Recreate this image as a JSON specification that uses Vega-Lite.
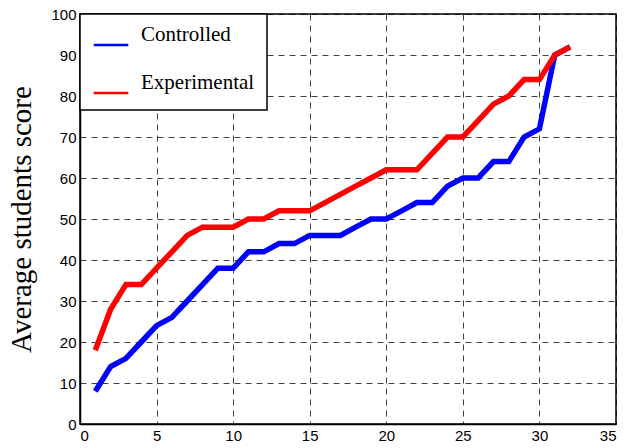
{
  "$schema": "https://vega.github.io/schema/vega-lite/v6.json",
  "autosize": {"type": "none"},
  "width": 536,
  "height": 410,
  "padding": {"left": 80, "top": 14, "right": 16, "bottom": 24},
  "background": "white",
  "config": {
    "view": {"stroke": "black", "strokeWidth": 1.5},
    "legend": {"strokeWidth": 1.5},
    "axis": {
      "labelFont": "Liberation Sans",
      "labelFontSize": 15,
      "labelColor": "black",
      "grid": true,
      "gridColor": "black",
      "gridDash": [6, 5],
      "gridOpacity": 0.75,
      "gridWidth": 1,
      "domainColor": "black",
      "domainWidth": 1.5,
      "tickSize": 0,
      "labelPadding": 4
    }
  },
  "data": {
    "values": [
      {"x": 1, "score": 8, "group": "Controlled"},
      {"x": 2, "score": 14, "group": "Controlled"},
      {"x": 3, "score": 16, "group": "Controlled"},
      {"x": 4, "score": 20, "group": "Controlled"},
      {"x": 5, "score": 24, "group": "Controlled"},
      {"x": 6, "score": 26, "group": "Controlled"},
      {"x": 7, "score": 30, "group": "Controlled"},
      {"x": 8, "score": 34, "group": "Controlled"},
      {"x": 9, "score": 38, "group": "Controlled"},
      {"x": 10, "score": 38, "group": "Controlled"},
      {"x": 11, "score": 42, "group": "Controlled"},
      {"x": 12, "score": 42, "group": "Controlled"},
      {"x": 13, "score": 44, "group": "Controlled"},
      {"x": 14, "score": 44, "group": "Controlled"},
      {"x": 15, "score": 46, "group": "Controlled"},
      {"x": 16, "score": 46, "group": "Controlled"},
      {"x": 17, "score": 46, "group": "Controlled"},
      {"x": 18, "score": 48, "group": "Controlled"},
      {"x": 19, "score": 50, "group": "Controlled"},
      {"x": 20, "score": 50, "group": "Controlled"},
      {"x": 21, "score": 52, "group": "Controlled"},
      {"x": 22, "score": 54, "group": "Controlled"},
      {"x": 23, "score": 54, "group": "Controlled"},
      {"x": 24, "score": 58, "group": "Controlled"},
      {"x": 25, "score": 60, "group": "Controlled"},
      {"x": 26, "score": 60, "group": "Controlled"},
      {"x": 27, "score": 64, "group": "Controlled"},
      {"x": 28, "score": 64, "group": "Controlled"},
      {"x": 29, "score": 70, "group": "Controlled"},
      {"x": 30, "score": 72, "group": "Controlled"},
      {"x": 31, "score": 90, "group": "Controlled"},
      {"x": 32, "score": 92, "group": "Controlled"},
      {"x": 1, "score": 18, "group": "Experimental"},
      {"x": 2, "score": 28, "group": "Experimental"},
      {"x": 3, "score": 34, "group": "Experimental"},
      {"x": 4, "score": 34, "group": "Experimental"},
      {"x": 5, "score": 38, "group": "Experimental"},
      {"x": 6, "score": 42, "group": "Experimental"},
      {"x": 7, "score": 46, "group": "Experimental"},
      {"x": 8, "score": 48, "group": "Experimental"},
      {"x": 9, "score": 48, "group": "Experimental"},
      {"x": 10, "score": 48, "group": "Experimental"},
      {"x": 11, "score": 50, "group": "Experimental"},
      {"x": 12, "score": 50, "group": "Experimental"},
      {"x": 13, "score": 52, "group": "Experimental"},
      {"x": 14, "score": 52, "group": "Experimental"},
      {"x": 15, "score": 52, "group": "Experimental"},
      {"x": 16, "score": 54, "group": "Experimental"},
      {"x": 17, "score": 56, "group": "Experimental"},
      {"x": 18, "score": 58, "group": "Experimental"},
      {"x": 19, "score": 60, "group": "Experimental"},
      {"x": 20, "score": 62, "group": "Experimental"},
      {"x": 21, "score": 62, "group": "Experimental"},
      {"x": 22, "score": 62, "group": "Experimental"},
      {"x": 23, "score": 66, "group": "Experimental"},
      {"x": 24, "score": 70, "group": "Experimental"},
      {"x": 25, "score": 70, "group": "Experimental"},
      {"x": 26, "score": 74, "group": "Experimental"},
      {"x": 27, "score": 78, "group": "Experimental"},
      {"x": 28, "score": 80, "group": "Experimental"},
      {"x": 29, "score": 84, "group": "Experimental"},
      {"x": 30, "score": 84, "group": "Experimental"},
      {"x": 31, "score": 90, "group": "Experimental"},
      {"x": 32, "score": 92, "group": "Experimental"}
    ]
  },
  "mark": {"type": "line", "strokeWidth": 5.5, "strokeJoin": "miter", "strokeCap": "butt"},
  "encoding": {
    "x": {
      "field": "x",
      "type": "quantitative",
      "scale": {"domain": [0, 35], "nice": false},
      "axis": {"values": [0, 5, 10, 15, 20, 25, 30, 35], "title": null}
    },
    "y": {
      "field": "score",
      "type": "quantitative",
      "scale": {"domain": [0, 100], "nice": false},
      "axis": {
        "values": [0, 10, 20, 30, 40, 50, 60, 70, 80, 90, 100],
        "title": "Average students score",
        "titleFont": "Liberation Serif",
        "titleFontSize": 29,
        "titleFontWeight": "normal",
        "titleColor": "black",
        "titlePadding": 14
      }
    },
    "color": {
      "field": "group",
      "type": "nominal",
      "scale": {"domain": ["Controlled", "Experimental"], "range": ["#0000FF", "#FF0000"]},
      "legend": {
        "title": null,
        "orient": "none",
        "legendX": 0,
        "legendY": 0,
        "fillColor": "white",
        "strokeColor": "black",
        "padding": 12,
        "symbolType": "stroke",
        "symbolSize": 1200,
        "symbolStrokeWidth": 2.5,
        "labelFont": "Liberation Serif",
        "labelFontSize": 21,
        "labelColor": "black",
        "labelBaseline": "bottom",
        "labelOffset": 11,
        "rowPadding": 22,
        "labelLimit": 250
      }
    }
  }
}
